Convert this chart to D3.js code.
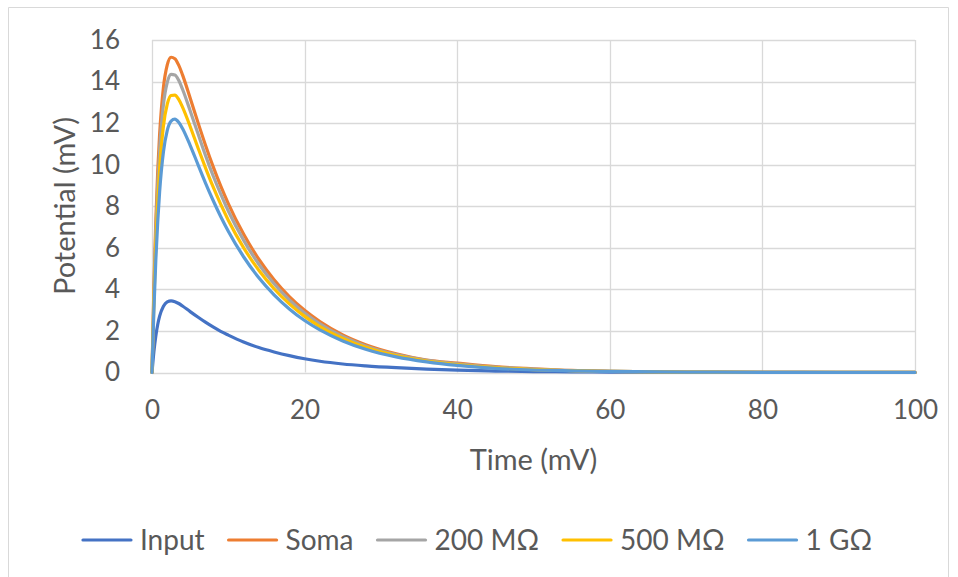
<!DOCTYPE html>
<html>
<head>
<meta charset="utf-8">
<script src="https://cdn.jsdelivr.net/npm/d3@7"></script>
<style>
  body { margin: 0; background: #fff; overflow: hidden; }
  text { font-family: Lato, "Open Sans", sans-serif; fill: #595959; }
</style>
</head>
<body>
<div id="chart"></div>
<script>
// tiempos (eje x)
const time = [0, 0.25, 0.5, 0.75, 1, 1.5, 2, 2.5, 3, 3.5, 4, 5, 6, 7, 8, 9, 10, 12, 14, 16, 18, 20, 22, 25, 28, 32, 36, 40, 45, 50, 55, 60, 70, 80, 90, 100];

// series
const input = [0, 1.01, 1.76, 2.31, 2.71, 3.19, 3.40, 3.45, 3.41, 3.32, 3.20, 2.93, 2.67, 2.42, 2.19, 1.98, 1.80, 1.47, 1.20, 0.99, 0.81, 0.66, 0.54, 0.41, 0.32, 0.23, 0.16, 0.11, 0.07, 0.045, 0.03, 0.018, 0.007, 0.003, 0.001, 0];
const soma = [0, 4.14, 7.30, 9.68, 11.47, 13.72, 14.80, 15.17, 15.10, 14.79, 14.32, 13.21, 12.06, 10.95, 9.92, 8.98, 8.13, 6.66, 5.45, 4.46, 3.65, 2.99, 2.45, 1.81, 1.34, 0.90, 0.60, 0.45, 0.28, 0.18, 0.10, 0.06, 0.025, 0.01, 0.005, 0.002];
const r200 = [0, 3.84, 6.79, 9.03, 10.73, 12.89, 13.96, 14.35, 14.32, 14.06, 13.63, 12.60, 11.52, 10.46, 9.48, 8.59, 7.77, 6.37, 5.21, 4.27, 3.49, 2.86, 2.34, 1.73, 1.28, 0.86, 0.58, 0.42, 0.26, 0.16, 0.09, 0.06, 0.024, 0.01, 0.005, 0.002];
const r500 = [0, 3.47, 6.16, 8.23, 9.81, 11.86, 12.91, 13.33, 13.35, 13.14, 12.77, 11.84, 10.84, 9.86, 8.94, 8.10, 7.33, 6.01, 4.92, 4.03, 3.30, 2.70, 2.21, 1.64, 1.21, 0.81, 0.55, 0.38, 0.23, 0.14, 0.09, 0.055, 0.022, 0.009, 0.004, 0.002];
const r1g = [0, 3.02, 5.40, 7.26, 8.70, 10.62, 11.65, 12.10, 12.19, 12.04, 11.74, 10.93, 10.03, 9.13, 8.29, 7.51, 6.80, 5.57, 4.56, 3.74, 3.06, 2.50, 2.05, 1.52, 1.12, 0.75, 0.51, 0.34, 0.20, 0.12, 0.08, 0.05, 0.02, 0.008, 0.004, 0.002];

const seriesNames = ["Input", "Soma", "200 MΩ", "500 MΩ", "1 GΩ"];
const seriesValues = [input, soma, r200, r500, r1g];
const colors = ["#4472C4", "#ED7D31", "#A5A5A5", "#FFC000", "#5B9BD5"];

const xTicks = [0, 20, 40, 60, 80, 100];
const yTicks = [0, 2, 4, 6, 8, 10, 12, 14, 16];

const width = 958;
const height = 577;
const margin = { top: 40, right: 43, bottom: 204.5, left: 152 };
const innerWidth = width - margin.left - margin.right;
const innerHeight = height - margin.top - margin.bottom;

const svg = d3.select("#chart").append("svg")
    .attr("width", width)
    .attr("height", height);

// borde del área del gráfico
svg.append("path")
    .attr("d", "M8.5,577 V7.5 H948.5 V577")
    .attr("fill", "none")
    .attr("stroke", "#D9D9D9");

const g = svg.append("g")
    .attr("transform", `translate(${margin.left}, ${margin.top})`);

const x = d3.scaleLinear().domain([0, 100]).range([0, innerWidth]);
const y = d3.scaleLinear().domain([0, 16]).range([innerHeight, 0]);

// rejilla
g.append("g")
    .selectAll("line")
    .data(yTicks)
    .enter().append("line")
    .attr("x1", 0)
    .attr("x2", innerWidth)
    .attr("y1", d => Math.round(y(d)) + 0.5)
    .attr("y2", d => Math.round(y(d)) + 0.5)
    .attr("stroke", "#D9D9D9")
    .attr("stroke-width", 1.3);

g.append("g")
    .selectAll("line")
    .data(xTicks)
    .enter().append("line")
    .attr("x1", d => Math.round(x(d)) + 0.5)
    .attr("x2", d => Math.round(x(d)) + 0.5)
    .attr("y1", 0)
    .attr("y2", innerHeight)
    .attr("stroke", "#D9D9D9")
    .attr("stroke-width", 1.3);

// ejes
const yAxis = g.append("g")
    .call(d3.axisLeft(y).tickValues(yTicks).tickSize(0).tickPadding(32));
yAxis.select(".domain").remove();
yAxis.selectAll("text")
    .style("font-size", "26px")
    .attr("fill", "#595959");

const xAxis = g.append("g")
    .attr("transform", `translate(0, ${innerHeight})`)
    .call(d3.axisBottom(x).tickValues(xTicks).tickSize(0).tickPadding(28));
xAxis.select(".domain").remove();
xAxis.selectAll("text")
    .style("font-size", "26px")
    .attr("fill", "#595959");

// líneas
const line = d3.line()
    .x((d, i) => x(time[i]))
    .y(d => y(d))
    .curve(d3.curveMonotoneX);

seriesValues.forEach((vals, k) => {
    g.append("path")
        .datum(vals)
        .attr("fill", "none")
        .attr("stroke", colors[k])
        .attr("stroke-width", 3.2)
        .attr("stroke-linejoin", "round")
        .attr("stroke-linecap", "round")
        .attr("d", line);
});

// títulos de ejes
svg.append("text")
    .attr("transform", "rotate(-90)")
    .attr("x", -206)
    .attr("y", 75)
    .style("text-anchor", "middle")
    .style("font-size", "29px")
    .text("Potential (mV)");

svg.append("text")
    .attr("x", margin.left + innerWidth / 2)
    .attr("y", 470)
    .style("text-anchor", "middle")
    .style("font-size", "29px")
    .text("Time (mV)");

// leyenda
const legend = svg.append("g");
let lx = 0;
seriesNames.forEach((name, k) => {
    const item = legend.append("g").attr("transform", `translate(${lx}, 0)`);
    item.append("line")
        .attr("x1", 0)
        .attr("x2", 48)
        .attr("y1", 0)
        .attr("y2", 0)
        .attr("stroke", colors[k])
        .attr("stroke-width", 3.2)
        .attr("stroke-linecap", "round");
    const t = item.append("text")
        .attr("x", 57)
        .attr("y", 10)
        .style("font-size", "28px")
        .text(name);
    lx += 57 + t.node().getComputedTextLength() + 24;
});
const legendWidth = lx - 24;
legend.attr("transform", `translate(${(87 + 868) / 2 - legendWidth / 2}, 540)`);
</script>
</body>
</html>
